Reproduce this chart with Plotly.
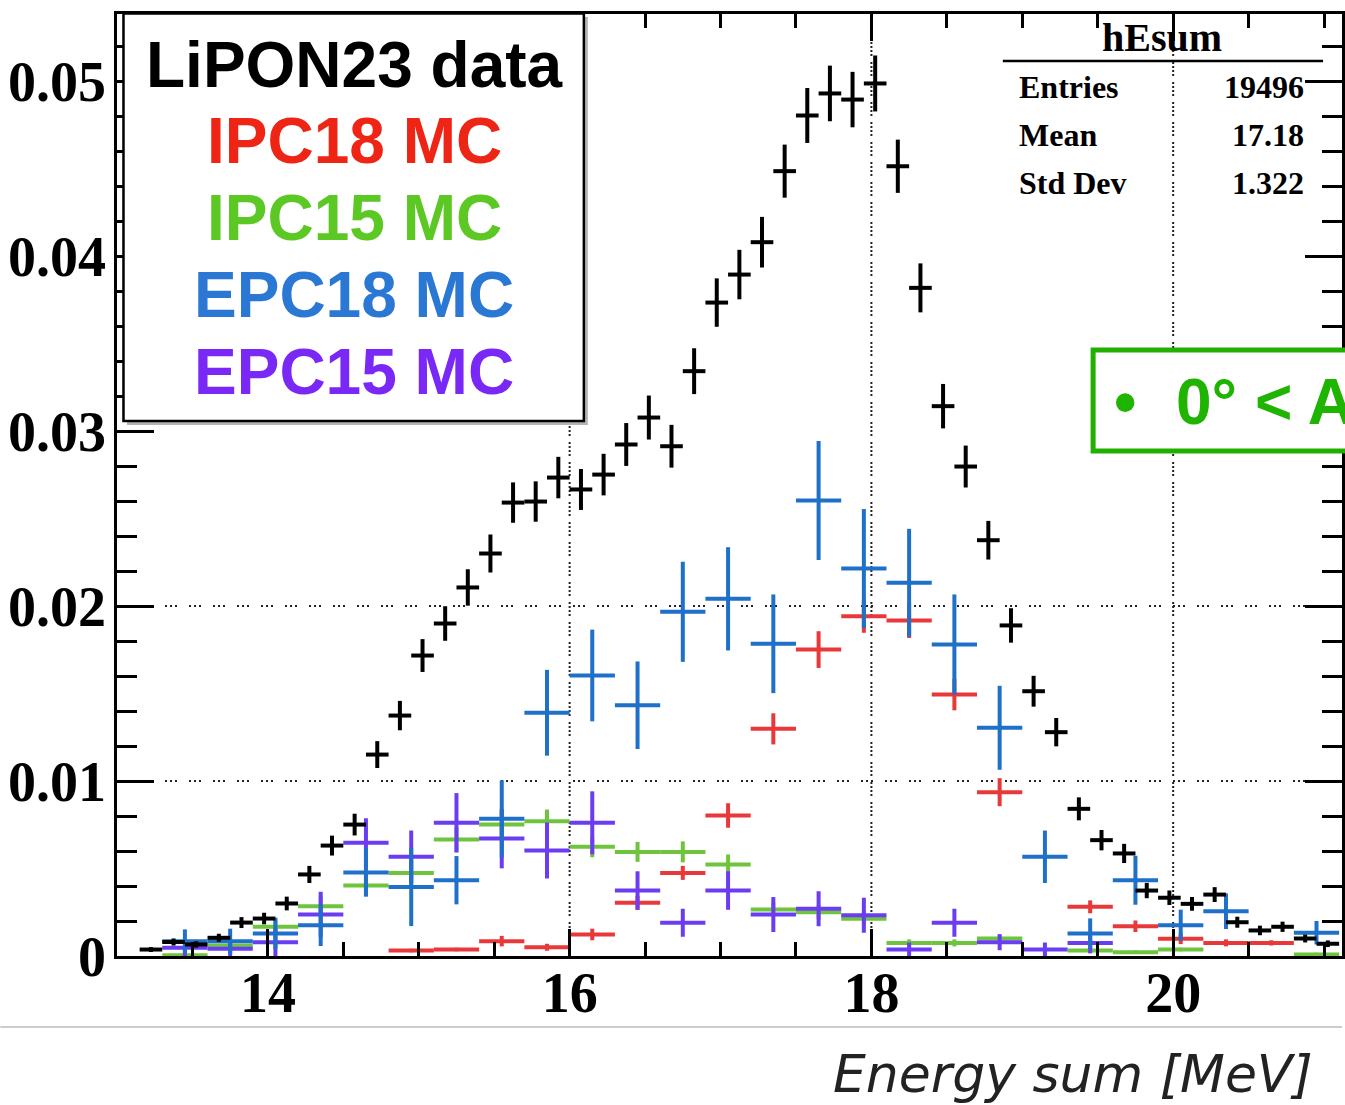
import numpy as np
import plotly.graph_objects as go

# ---------------- data ----------------
data_x = [13.075, 13.225, 13.375, 13.525, 13.675, 13.825, 13.975, 14.125, 14.275, 14.425,
          14.575, 14.725, 14.875, 15.025, 15.175, 15.325, 15.475, 15.625, 15.775, 15.925,
          16.075, 16.225, 16.375, 16.525, 16.675, 16.825, 16.975, 17.125, 17.275, 17.425,
          17.575, 17.725, 17.875, 18.025, 18.175, 18.325, 18.475, 18.625, 18.775, 18.925,
          19.075, 19.225, 19.375, 19.525, 19.675, 19.825, 19.975, 20.125, 20.275, 20.425,
          20.575, 20.725, 20.875, 21.025]
data_y = [None, 0.00037, 0.0008, 0.00066, 0.00104, 0.00191, 0.00214, 0.0030, 0.00466, 0.00631,
          0.00751, 0.01151, 0.01374, 0.01717, 0.0190, 0.02106, 0.0230, 0.02591, 0.02597, 0.02734,
          0.02666, 0.02751, 0.02923, 0.03077, 0.02913, 0.03342, 0.03734, 0.03894, 0.04079, 0.04485,
          0.04803, 0.04929, 0.04894, 0.04986, 0.04513, 0.03818, 0.03142, 0.02797, 0.02376, 0.01889,
          0.01513, 0.01279, 0.00841, 0.00662, 0.00586, 0.00374, 0.00333, 0.00298, 0.00351, 0.00193,
          0.00146, 0.00167, 0.0010, 0.0007]
data_entries = 19496
data_halfwidth = 0.075

mc_x = [13.15, 13.45, 13.75, 14.05, 14.35, 14.65, 14.95, 15.25, 15.55, 15.85,
        16.15, 16.45, 16.75, 17.05, 17.35, 17.65, 17.95, 18.25, 18.55, 18.85,
        19.15, 19.45, 19.75, 20.05, 20.35, 20.65, 20.95]
mc_halfwidth = 0.15

ipc18 = [None, None, None, None, None, None, 0.00031, 0.00037, 0.00085, 0.0005,
         0.00123, 0.00304, 0.00475, 0.00803, 0.01298, 0.01751, 0.01942, 0.01917, 0.01494, 0.00936,
         None, 0.00281, 0.0017, 0.00098, 0.00075, 0.00075, None]
ipc18_err = [None, None, None, None, None, None, 0.0001, 0.0001, 0.0003, 0.0002,
             0.00033, 0.0004, 0.0004, 0.0007, 0.00089, 0.00105, 0.00095, 0.0010, 0.0009, 0.0008,
             None, 0.00037, 0.00033, 0.0003, 0.0002, 0.00015, None]

ipc15 = [None, 0.00005, 0.0006, 0.00167, 0.00285, 0.00403, 0.00475, 0.00666, 0.00751, 0.0077,
         0.00624, 0.00595, 0.00595, 0.00523, 0.00266, 0.0025, 0.00213, 0.00075, 0.00075, 0.0010,
         None, 0.00031, 0.00022, 0.00037, None, None, 0.00009]
ipc15_err = [None, 0.0001, 0.0003, 0.0004, 0.0006, 0.0006, 0.0007, 0.0007, 0.0008, 0.00067,
             0.0006, 0.00057, 0.0006, 0.00057, 0.0004, 0.0004, 0.0004, 0.0002, 0.0002, 0.0002,
             None, 0.0001, 0.0001, 0.0001, None, None, 0.0001]

epc18 = [None, 0.00085, 0.00085, 0.00129, 0.00176, 0.00477, 0.00395, 0.00433, 0.00784, 0.0139,
         0.01603, 0.01433, 0.01967, 0.02041, 0.01784, 0.02603, 0.02214, 0.02133, 0.0178, 0.01304,
         0.00567, 0.00129, 0.00433, 0.00176, 0.00256, None, 0.00133]
epc18_err = [None, 0.00067, 0.00071, 0.0009, 0.00119, 0.00138, 0.00224, 0.00138, 0.0022, 0.00245,
             0.00262, 0.0025, 0.00286, 0.00295, 0.00282, 0.0034, 0.0034, 0.00308, 0.00286, 0.0024,
             0.0015, 0.00086, 0.0014, 0.00089, 0.00102, None, 0.00067]

epc15 = [None, 0.00047, 0.00041, 0.00079, 0.00237, 0.00647, 0.00567, 0.00761, 0.00671, 0.00603,
         0.00761, 0.00374, 0.0019, 0.00374, 0.00237, 0.0027, 0.00233, 0.00037, 0.0019, 0.00079,
         0.00037, 0.00075, None, None, None, None, None]
epc15_err = [None, 0.0005, 0.0005, 0.0008, 0.0013, 0.0014, 0.0015, 0.0017, 0.0017, 0.0016,
             0.0018, 0.0011, 0.0008, 0.0011, 0.0010, 0.0010, 0.0010, 0.0004, 0.0008, 0.00046,
             0.0004, 0.0006, None, None, None, None, None]

legend_labels = ["LiPON23 data", "IPC18 MC", "IPC15 MC", "EPC18 MC", "EPC15 MC"]
legend_colors = ["#000000", "#ee2414", "#5cc824", "#2a78d4", "#7a28f5"]

x_tickvals = [14, 16, 18, 20]
x_ticktext = ["14", "16", "18", "20"]
y_tickvals = [0, 0.01, 0.02, 0.03, 0.04, 0.05]
y_ticktext = ["0", "0.01", "0.02", "0.03", "0.04", "0.05"]
x_minor = [13.5, 14.5, 15, 15.5, 16.5, 17, 17.5, 18.5, 19, 19.5, 20.5, 21]
y_minor = [0.002, 0.004, 0.006, 0.008, 0.012, 0.014, 0.016, 0.018, 0.022, 0.024, 0.026, 0.028,
           0.032, 0.034, 0.036, 0.038, 0.042, 0.044, 0.046, 0.048, 0.052]
grid_x = [16, 18, 20]
grid_y = [0.01, 0.02]

stats_title = "hEsum"
stats_names = ["Entries", "Mean", "Std Dev"]
stats_values = ["19496", "17.18", "1.322"]

x_range = [13.0, 21.119]
y_range = [0.0, 0.05383]

# ---------------- layout geometry ----------------
W, H = 1345, 1105
L, R, T, B = 117, 0, 14, 149
PW = W - L - R
PH = H - T - B


def px(x):
    return (x - L) / PW


def py(y):
    return (H - B - y) / PH


mc_colors = {"ipc18": "#e8383a", "ipc15": "#6ec43c", "epc15": "#6a3cf2", "epc18": "#1e70c8"}

fig = go.Figure()


def add_hist(x, y, err, hw, color, name, thick):
    fig.add_trace(go.Scatter(
        x=x, y=y, mode="markers", name=name, showlegend=False,
        marker=dict(size=1, color=color),
        error_x=dict(type="constant", value=hw, color=color, thickness=thick, width=0),
        error_y=dict(type="data", array=err, color=color, thickness=thick, width=0),
        hoverinfo="skip",
    ))


add_hist(mc_x, ipc18, ipc18_err, mc_halfwidth, mc_colors["ipc18"], "IPC18 MC", 4)
add_hist(mc_x, ipc15, ipc15_err, mc_halfwidth, mc_colors["ipc15"], "IPC15 MC", 4)
add_hist(mc_x, epc15, epc15_err, mc_halfwidth, mc_colors["epc15"], "EPC15 MC", 4)
add_hist(mc_x, epc18, epc18_err, mc_halfwidth, mc_colors["epc18"], "EPC18 MC", 4)
data_err = [None if v is None else float(np.sqrt(v / data_entries)) for v in data_y]
add_hist(data_x, data_y, data_err, data_halfwidth, "#000000", "LiPON23 data", 4)

shapes = []
# dotted grid lines
for gx in grid_x:
    shapes.append(dict(type="line", xref="x", yref="paper", x0=gx, x1=gx, y0=0, y1=1,
                       line=dict(color="#222222", width=2, dash="2px,2px,2px,2px,2px,2px,2px,6px"),
                       layer="below"))
for gy in grid_y:
    shapes.append(dict(type="line", xref="paper", yref="y", x0=0, x1=1, y0=gy, y1=gy,
                       line=dict(color="#222222", width=2, dash="2px,3px,2px,3px,2px,12px"),
                       layer="below"))

# legend box with shadow
shapes.append(dict(type="rect", xref="paper", yref="paper",
                   x0=px(127), x1=px(589), y0=py(425), y1=py(17),
                   fillcolor="#b4b4b4", line=dict(width=0), layer="above"))
shapes.append(dict(type="rect", xref="paper", yref="paper",
                   x0=px(123.5), x1=px(585), y0=py(421), y1=py(13.5),
                   fillcolor="white", line=dict(color="black", width=2.5), layer="above"))
# stats box separator
shapes.append(dict(type="line", xref="paper", yref="paper",
                   x0=px(1005), x1=px(1326), y0=py(61), y1=py(61),
                   line=dict(color="black", width=2.5), layer="above"))
# green annotation box
shapes.append(dict(type="rect", xref="paper", yref="paper",
                   x0=px(1095.5), x1=px(1420), y0=py(451), y1=py(350),
                   fillcolor="white", line=dict(color="#22b000", width=5), layer="above"))
# slide separator line
shapes.append(dict(type="line", xref="paper", yref="paper",
                   x0=px(0), x1=px(1345), y0=py(1027), y1=py(1027),
                   line=dict(color="#cccccc", width=2), layer="above"))

annotations = []
leg_y = [65, 141, 218, 295, 372]
for lab, col, yy in zip(legend_labels, legend_colors, leg_y):
    annotations.append(dict(text=lab, xref="paper", yref="paper", x=px(355), y=py(yy),
                            xanchor="center", yanchor="middle", showarrow=False,
                            font=dict(family="Liberation Sans", size=64, color=col, weight="bold")))

serif = "Liberation Serif"
annotations.append(dict(text=stats_title, xref="paper", yref="paper", x=px(1165), y=py(38),
                        xanchor="center", yanchor="middle", showarrow=False,
                        font=dict(family=serif, size=40, color="black", weight="bold")))
for i, (nm, val) in enumerate(zip(stats_names, stats_values)):
    yy = 87 + 48 * i
    annotations.append(dict(text=nm, xref="paper", yref="paper", x=px(1019), y=py(yy),
                            xanchor="left", yanchor="middle", showarrow=False,
                            font=dict(family=serif, size=32, color="black", weight="bold")))
    annotations.append(dict(text=val, xref="paper", yref="paper", x=px(1309), y=py(yy),
                            xanchor="right", yanchor="middle", showarrow=False,
                            font=dict(family=serif, size=32, color="black", weight="bold")))

annotations.append(dict(text="•", xref="paper", yref="paper", x=px(1127), y=py(402),
                        xanchor="center", yanchor="middle", showarrow=False,
                        font=dict(family="Liberation Sans", size=64, color="#1eb400", weight="bold")))
annotations.append(dict(text="0° < A", xref="paper", yref="paper", x=px(1177), y=py(402),
                        xanchor="left", yanchor="middle", showarrow=False,
                        font=dict(family="Liberation Sans", size=64, color="#1eb400", weight="bold")))

annotations.append(dict(text="Energy sum [MeV]", xref="paper", yref="paper", x=px(1318), y=py(1074),
                        xanchor="right", yanchor="middle", showarrow=False,
                        font=dict(family="DejaVu Sans", size=52, color="#222222", style="italic")))

tickfont = dict(family=serif, size=56, color="black", weight="bold")

fig.update_layout(
    width=W, height=H,
    margin=dict(l=L, r=R, t=T, b=B, pad=0),
    paper_bgcolor="white", plot_bgcolor="white",
    showlegend=False,
    shapes=shapes, annotations=annotations,
    xaxis=dict(range=x_range, tickmode="array", tickvals=x_tickvals, ticktext=x_ticktext,
               ticks="inside", ticklen=27, tickwidth=2.5, tickcolor="black",
               showline=True, linecolor="black", linewidth=2.5, mirror="ticks",
               showgrid=False, zeroline=False, tickfont=tickfont, ticklabelstandoff=-14,
               minor=dict(tickmode="array", tickvals=x_minor, ticks="inside", ticklen=14,
                          tickwidth=2.5, tickcolor="black", showgrid=False)),
    yaxis=dict(range=y_range, tickmode="array", tickvals=y_tickvals, ticktext=y_ticktext,
               ticks="inside", ticklen=37, tickwidth=2.5, tickcolor="black",
               showline=True, linecolor="black", linewidth=2.5, mirror="ticks",
               showgrid=False, zeroline=False, tickfont=tickfont, ticklabelstandoff=-3,
               minor=dict(tickmode="array", tickvals=y_minor, ticks="inside", ticklen=20,
                          tickwidth=2.5, tickcolor="black", showgrid=False)),
)

fig.write_html("out.html")
